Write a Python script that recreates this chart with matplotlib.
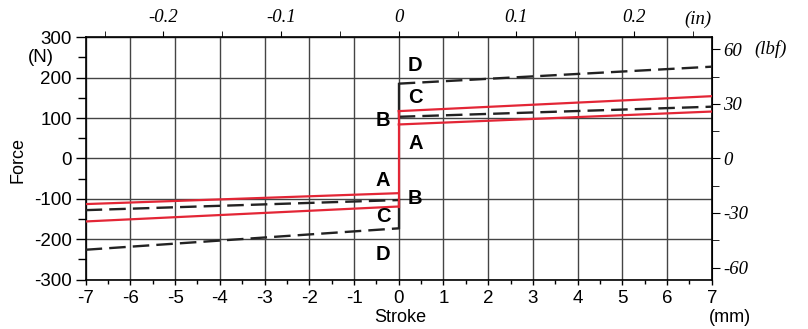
import numpy as np
import matplotlib.pyplot as plt

# DATA
stroke_pos = [0, 7]     # mm
stroke_neg = [-7, 0]    # mm

# force (N) at the ends of each line
a_pos = [84, 116]
b_pos = [117, 154]
c_pos = [103, 128]
d_pos = [185, 227]
a_neg = [-113, -86]
b_neg = [-156, -119]
c_neg = [-128, -103]
d_neg = [-226, -173]

# letter labels: (text, stroke, force)
letters = [("D", 0.37, 229), ("C", 0.37, 150), ("B", -0.35, 94), ("A", 0.37, 38),
           ("A", -0.35, -54), ("B", 0.37, -100), ("C", -0.35, -143), ("D", -0.35, -239)]

x_ticks = np.arange(-7, 8, 1)
y_ticks = np.arange(-300, 301, 100)
in_ticks = [-0.2, -0.1, 0, 0.1, 0.2]
in_labels = ["-0.2", "-0.1", "0", "0.1", "0.2"]
lbf_ticks = [-60, -30, 0, 30, 60]
lbf_labels = ["-60", "-30", "0", "30", "60"]

# conversion used by the drawing
MM_PER_IN = 26.3
N_PER_LBF = 4.5

RED = "#e32636"
FS = 13.5

plt.rcParams['font.family'] = ['Liberation Sans', 'DejaVu Sans']

fig = plt.figure(figsize=(8.08, 3.29), dpi=100)
ax = fig.add_axes([0.106, 0.150, 0.775, 0.737])

ax.set_xlim(-7, 7)
ax.set_ylim(-300, 300)
ax.set_xticks(x_ticks)
ax.set_xticks(np.arange(-6.5, 7, 1), minor=True)
ax.set_yticks(y_ticks)
ax.set_yticks(np.arange(-250, 300, 100), minor=True)
ax.set_xticklabels([str(v) for v in x_ticks])
ax.set_yticklabels([str(v) for v in y_ticks])
ax.tick_params(axis='y', which='major', direction='out', length=7, width=1,
               labelsize=FS, pad=3)
ax.tick_params(axis='y', which='minor', direction='out', length=6, width=1)
ax.tick_params(axis='x', which='major', direction='out', length=3.5, width=1,
               labelsize=FS, pad=4)
ax.tick_params(axis='x', which='minor', direction='out', length=3, width=1)
ax.grid(True, which='major', color='#444444', lw=1.0)
for s in ax.spines.values():
    s.set_linewidth(1.2)

# dashed lines
dash = dict(color='#222222', lw=1.7, dashes=(7, 3))
ax.plot(stroke_pos, c_pos, **dash, zorder=3)
ax.plot(stroke_pos, d_pos, **dash, zorder=3)
ax.plot(stroke_neg, c_neg, **dash, zorder=3)
ax.plot(stroke_neg, d_neg, **dash, zorder=3)
ax.plot([0, 0], [c_pos[0], d_pos[0]], color='#222222', lw=1.7, zorder=3)
ax.plot([0, 0], [c_neg[1], d_neg[1]], color='#222222', lw=1.7, zorder=3)

# red lines
ax.plot(stroke_pos, a_pos, color=RED, lw=1.6, zorder=4)
ax.plot(stroke_pos, b_pos, color=RED, lw=1.6, zorder=4)
ax.plot(stroke_neg, a_neg, color=RED, lw=1.6, zorder=4)
ax.plot(stroke_neg, b_neg, color=RED, lw=1.6, zorder=4)
ax.plot([0, 0], [b_neg[1], b_pos[0]], color=RED, lw=1.6, zorder=4)

for txt, xs, fs in letters:
    ax.text(xs, fs, txt, fontsize=14.5, fontweight='bold', ha='center', va='center',
            zorder=5)

# axis titles
fig.text(400 / 808, 1 - 318 / 329, "Stroke", fontsize=13, ha='center', va='center')
fig.text(730 / 808, 1 - 318 / 329, "(mm)", fontsize=13, ha='center', va='center')
fig.text(18 / 808, 1 - 160 / 329, "Force", fontsize=13, rotation=90,
         ha='center', va='center')
ax.text(-0.071, 250, "(N)", fontsize=FS, ha='center', va='center',
        transform=ax.get_yaxis_transform())

# top axis in inches
top = ax.secondary_xaxis('top', functions=(lambda x: x / MM_PER_IN,
                                           lambda x: x * MM_PER_IN))
top.set_xticks(in_ticks)
top.set_xticklabels(in_labels, fontfamily='Liberation Serif', fontstyle='italic')
top.set_xticks(np.arange(-0.25, 0.26, 0.1), minor=True)
top.tick_params(which='major', direction='out', length=4, labelsize=FS, pad=4)
top.tick_params(which='minor', direction='out', length=4)
ax.text(0.978, 1.075, "(in)", fontsize=FS, family='Liberation Serif',
        style='italic', ha='center', va='center', transform=ax.transAxes)

# right axis in lbf
right = ax.secondary_yaxis('right', functions=(lambda y: y / N_PER_LBF,
                                               lambda y: y * N_PER_LBF))
right.set_yticks(lbf_ticks)
right.set_yticklabels(lbf_labels, fontfamily='Liberation Serif', fontstyle='italic')
right.set_yticks([-45, -15, 15, 45], minor=True)
right.tick_params(which='major', direction='out', length=6, labelsize=FS, pad=2)
right.tick_params(which='minor', direction='out', length=5)
ax.text(1.093, 60 * N_PER_LBF, "(lbf)", fontsize=FS, family='Liberation Serif',
        style='italic', ha='center', va='center',
        transform=ax.get_yaxis_transform())

fig.savefig("out.png", dpi=100)
